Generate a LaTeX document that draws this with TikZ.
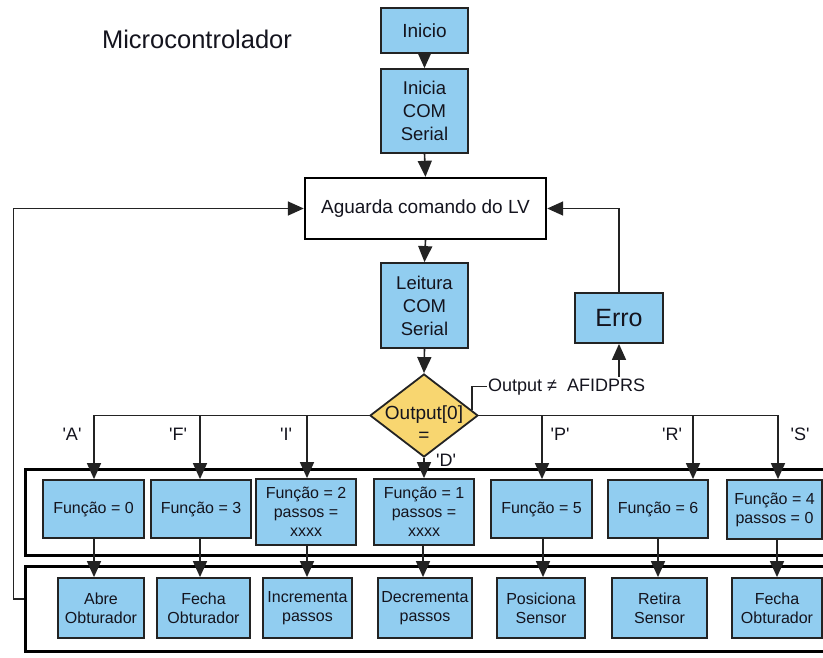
\documentclass[tikz,border=0pt]{standalone}
\usepackage{fontspec}
\setmainfont{Liberation Sans}
\usetikzlibrary{arrows.meta,shapes.geometric,calc}
\pgfdeclarelayer{background}
\pgfsetlayers{background,main}
\definecolor{boxblue}{RGB}{145,205,240}
\definecolor{diayel}{RGB}{248,214,112}
\definecolor{edgec}{RGB}{35,35,35}
\definecolor{txtc}{RGB}{20,20,30}
\newcommand{\apos}{\textquotesingle}
\newcommand{\fsA}{\fontsize{16}{19}\selectfont}
\newcommand{\fsB}{\fontsize{18.5}{23}\selectfont}
\begin{document}
\begin{tikzpicture}[x=1pt,y=-1pt,
  bluebox/.style={draw=edgec, line width=1.8pt, fill=boxblue, inner sep=0pt, align=center, text=txtc},
  whitebox/.style={draw=black, line width=2.4pt, fill=white, inner sep=0pt, align=center, text=txtc},
  outerbox/.style={draw=black, line width=3pt, inner sep=0pt},
  arr/.style={draw=edgec, line width=1.6pt, -{Triangle[length=16pt,width=14pt]}},
  plain/.style={draw=edgec, line width=1.6pt},
  lbl/.style={inner sep=1pt, text=txtc, font=\fontsize{18}{21}\selectfont}
]
\useasboundingbox (0,0) rectangle (823,657);

% title
\node[anchor=base, inner sep=0pt, text=txtc, font=\fontsize{25.5}{30}\selectfont] (title) at (197,48) {Microcontrolador};

% main column
\node[bluebox, minimum width=87pt, minimum height=45pt, font=\fontsize{19}{23}\selectfont] (ini) at (424.5,30.5) {Inicio};
\node[bluebox, minimum width=87pt, minimum height=84pt, font=\fsB] (icom) at (424.5,111) {Inicia\\COM\\Serial};
\node[whitebox, minimum width=241pt, minimum height=61pt, font=\fontsize{19}{23}\selectfont] (ag) at (425.5,208.5) {Aguarda comando do LV};
\node[bluebox, minimum width=87pt, minimum height=85pt, font=\fsB] (leit) at (424.5,305.5) {Leitura\\COM\\Serial};
\node[bluebox, minimum width=88pt, minimum height=50pt, font=\fontsize{25}{30}\selectfont] (erro) at (619,318) {Erro};
\node[diamond, draw=edgec, line width=1.8pt, fill=diayel, minimum width=108pt, minimum height=83pt, inner sep=0pt] (dia) at (424,415.5) {};
\node[align=center, inner sep=0pt, text=txtc, font=\fontsize{19}{22}\selectfont] (diatxt) at (424,424) {Output[0]\\=};
\node[lbl, anchor=base west] (errlbl) at (487,391) {Output ≠\ \ AFIDPRS};

% function row
\node[bluebox, minimum width=101pt, minimum height=58pt, font=\fsA] (fA) at (93.5,509) {Função = 0};
\node[bluebox, minimum width=100pt, minimum height=58pt, font=\fsA] (fF) at (201,509) {Função = 3};
\node[bluebox, minimum width=100pt, minimum height=66pt, font=\fsA] (fI) at (306,512) {Função = 2\\passos =\\xxxx};
\node[bluebox, minimum width=100pt, minimum height=66pt, font=\fsA] (fD) at (424,512) {Função = 1\\passos =\\xxxx};
\node[bluebox, minimum width=101pt, minimum height=58pt, font=\fsA] (fP) at (541.5,509) {Função = 5};
\node[bluebox, minimum width=100pt, minimum height=58pt, font=\fsA] (fR) at (658,509) {Função = 6};
\node[bluebox, minimum width=95pt, minimum height=59pt, font=\fsA] (fS) at (774.5,509.5) {Função = 4\\passos = 0};

% action row
\node[bluebox, minimum width=86pt, minimum height=60pt, font=\fsA] (aA) at (101,608) {Abre\\Obturador};
\node[bluebox, minimum width=93pt, minimum height=60pt, font=\fsA] (aF) at (203.5,608) {Fecha\\Obturador};
\node[bluebox, minimum width=89pt, minimum height=60pt, font=\fsA] (aI) at (307.5,608) {Incrementa\\passos};
\node[bluebox, minimum width=94pt, minimum height=60pt, font=\fsA] (aD) at (425,608) {Decrementa\\passos};
\node[bluebox, minimum width=88pt, minimum height=60pt, font=\fsA] (aP) at (541,608) {Posiciona\\Sensor};
\node[bluebox, minimum width=95pt, minimum height=60pt, font=\fsA] (aR) at (659.5,608) {Retira\\Sensor};
\node[bluebox, minimum width=90pt, minimum height=60pt, font=\fsA] (aS) at (777,608) {Fecha\\Obturador};

% outer frames
\begin{pgfonlayer}{background}
\node[outerbox, minimum width=805pt, minimum height=86pt] (outer1) at (427.5,512) {};
\node[outerbox, minimum width=805pt, minimum height=85pt] (outer2) at (427.5,608.5) {};
\end{pgfonlayer}

% branch labels
\node[lbl, anchor=base] (lA) at (72,440) {\apos A\apos};
\node[lbl, anchor=base] (lF) at (178,440) {\apos F\apos};
\node[lbl, anchor=base] (lI) at (286,440) {\apos I\apos};
\node[lbl, anchor=base] (lD) at (446,466) {\apos D\apos};
\node[lbl, anchor=base] (lP) at (560,440) {\apos P\apos};
\node[lbl, anchor=base] (lR) at (672,440) {\apos R\apos};
\node[lbl, anchor=base] (lS) at (800,440) {\apos S\apos};

% main flow connectors
\draw[arr] (ini.south) -- (icom.north);
\draw[arr] (icom.south) -- (ag.north);
\draw[arr] (ag.south) -- (leit.north);
\draw[arr] (leit.south) -- (dia.north);

% error path
\coordinate (dq) at ($(dia.north)!0.87!(dia.east)$);
\draw[plain] (dq) |- (errlbl.west);
\draw[arr] (erro.south |- errlbl.north) -- (erro.south);
\draw[arr] (erro.north) |- (ag.east);

% branches
\draw[arr] (dia.west) -| ([xshift=0.5pt]fA.north);
\draw[arr] (dia.west) -| ([xshift=-1pt]fF.north);
\draw[arr] (dia.west) -| ([xshift=1pt]fI.north);
\draw[arr] (dia.south) -- (fD.north);
\draw[arr] (dia.east) -| ([xshift=0.5pt]fP.north);
\draw[arr] (dia.east) -| ([xshift=35pt]fR.north);
\draw[arr] (dia.east) -| ([xshift=3.5pt]fS.north);

% function -> action
\draw[arr] ([xshift=0.5pt]fA.south) -- ([xshift=0.5pt]fA.south |- aA.north);
\draw[arr] ([xshift=-1pt]fF.south) -- ([xshift=-1pt]fF.south |- aF.north);
\draw[arr] ([xshift=1pt]fI.south) -- ([xshift=1pt]fI.south |- aI.north);
\draw[arr] ([xshift=-1pt]fD.south) -- ([xshift=-1pt]fD.south |- aD.north);
\draw[arr] ([xshift=1.5pt]fP.south) -- ([xshift=1.5pt]fP.south |- aP.north);
\draw[arr] (fR.south) -- (fR.south |- aR.north);
\draw[arr] ([xshift=2.5pt]fS.south) -- ([xshift=2.5pt]fS.south |- aS.north);

% feedback loop
\draw[arr] ([yshift=9.5pt]outer2.west) -- ++(-10,0) |- (ag.west);
\end{tikzpicture}
\end{document}
